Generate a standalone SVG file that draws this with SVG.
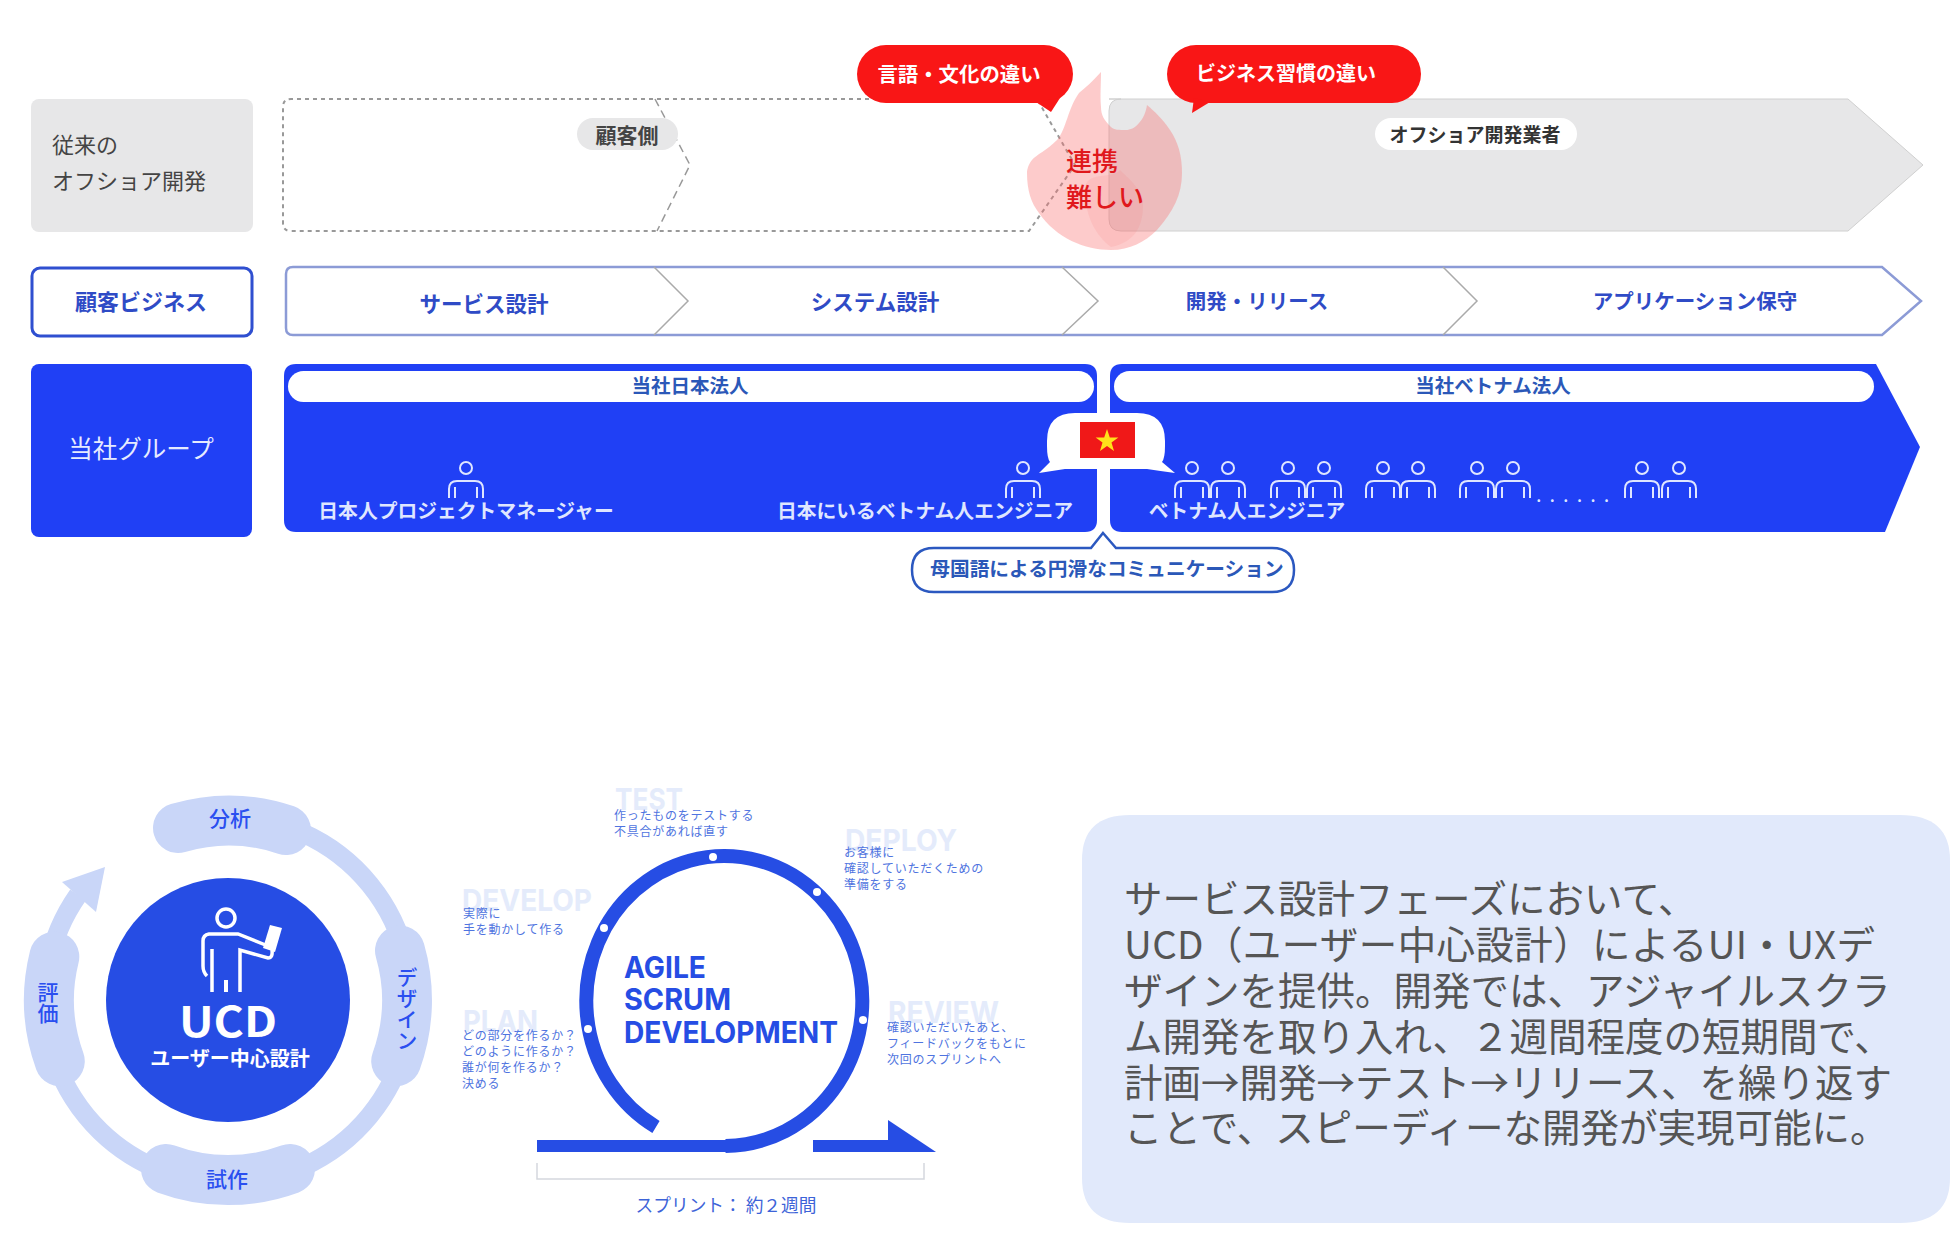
<svg xmlns="http://www.w3.org/2000/svg" xmlns:xlink="http://www.w3.org/1999/xlink" width="1950" height="1246" viewBox="0 0 1950 1246">
<style>
text{font-family:"Noto Sans CJK JP","Noto Sans",sans-serif}
.m{text-anchor:middle;dominant-baseline:central}
.b{font-weight:700}
.blue{fill:#2f4bc6}
.w{fill:#dfe6ff}
.sm{font-size:12px;letter-spacing:.75px;fill:#4f74e0}
.ghost{font-family:Inter,"Liberation Sans",sans-serif;font-weight:700;font-size:30px;fill:#e4ebfb}
.ag{font-family:Inter,"Liberation Sans",sans-serif;font-weight:700;font-size:30px;fill:#264de4}
.body{font-size:38.500px;fill:#555}
.seg{fill:none;stroke:#c9d6f8;stroke-width:50;stroke-linecap:round}
.ul{font-size:21px;font-weight:500;fill:#2a4ff0}
.dot{fill:#fff}
</style>
<defs>
<g id="p" fill="none" stroke="#dfe6ff" stroke-width="2">
<circle cx="0" cy="468" r="6"/>
<path d="M-17 498V489Q-17 481-9 481H9Q17 481 17 489V498M-11 487V498M11 487V498"/>
</g>
</defs>
<rect width="1950" height="1246" fill="#fff"/>

<g id="row1-label"><rect x="31" y="99" width="222" height="133" rx="8" fill="#e7e7e8"/>
<text x="52" y="143" font-size="22" fill="#444" dominant-baseline="central">従来の</text>
<text x="52" y="178.500" font-size="22" fill="#444" dominant-baseline="central">オフショア開発</text></g>

<g id="offshore"><path d="M1109 99H1848L1923 165L1848 231H1121Q1109 231 1109 219V111Q1109 99 1121 99Z" fill="#e7e7e8" stroke="#d0d0d0" stroke-width="1"/>
<rect x="1375" y="118" width="202" height="32" rx="16" fill="#fff"/>
<text class="m b" x="1475" y="133.500" font-size="19" fill="#333">オフショア開発業者</text></g>

<g id="customer-side"><path d="M1037 99H291Q283 99 283 107V223Q283 231 291 231H1029L1075 165Z" fill="#fff" stroke="#999" stroke-width="2" stroke-dasharray="4 4"/>
<path d="M655 99L690 165L657 231" fill="none" stroke="#999" stroke-width="1.500" stroke-dasharray="8 5"/>
<rect x="577" y="118" width="101" height="32" rx="16" fill="#e7e7e8"/>
<text class="m b" x="627" y="134" font-size="21" fill="#444">顧客側</text></g>

<g id="flame"><path d="M1101 72C1092 82 1085 88 1079 93C1068 108 1066 130 1057 140C1047 150 1036 155 1032 160C1028 165 1027 170 1027 173C1027 190 1031 203 1039 213C1056 238 1085 250 1111 250C1130 250 1145 242 1157 230C1173 212 1182 195 1182 173C1182 155 1178 142 1170 130C1162 118 1155 112 1147 105C1146 112 1143 119 1139 123C1135 128 1130 130 1126 130C1119 130 1114 130 1111 127C1104 120 1101 115 1101 107C1100 95 1101 85 1101 72Z" fill="#fa6e6e" fill-opacity=".36"/>
<path d="M1085 190C1085 215 1095 235 1111 247C1130 243 1143 232 1143 205C1143 190 1130 180 1120 170C1112 180 1085 170 1085 190Z" fill="#fa6e6e" fill-opacity=".12"/>
<text x="1066" y="159" font-size="26" fill="#e0181c" font-weight="500" dominant-baseline="central">連携</text>
<text x="1066" y="195" font-size="26" fill="#e0181c" font-weight="500" dominant-baseline="central">難しい</text></g>

<g id="bubble-language"><rect x="857" y="45" width="216" height="58" rx="29" fill="#f91616"/>
<polygon points="1036,102 1060,98 1051,112" fill="#f91616"/>
<text class="m b" x="959" y="72.500" font-size="20.400" fill="#fff">言語・文化の違い</text></g>
<g id="bubble-business"><rect x="1167" y="45" width="254" height="58" rx="29" fill="#f91616"/>
<polygon points="1192,113 1194,98 1210,102" fill="#f91616"/>
<text class="m b" x="1286" y="72.500" font-size="20" fill="#fff">ビジネス習慣の違い</text></g>

<g id="row2-label"><rect x="32" y="268" width="220" height="68" rx="8" fill="#fff" stroke="#2f4fd0" stroke-width="3"/>
<text class="m b blue" x="141" y="300" font-size="22">顧客ビジネス</text></g>

<g id="process"><path d="M293 267H1882L1921 301L1882 335H293Q286 335 286 328V274Q286 267 293 267Z" fill="#fff" stroke="#8c9bd6" stroke-width="2.500"/>
<path d="M654 267L688 301L654 335M1062 267L1098 301L1062 335M1443 267L1477 301L1443 335" fill="none" stroke="#aaa" stroke-width="1.500"/>
<text class="m b blue" x="484" y="302" font-size="21.500">サービス設計</text>
<text class="m b blue" x="875" y="300" font-size="21.500">システム設計</text>
<text class="m b blue" x="1257" y="300" font-size="20.500">開発・リリース</text>
<text class="m b blue" x="1695" y="300" font-size="20.500">アプリケーション保守</text></g>

<g id="row3-label"><rect x="31" y="364" width="221" height="173" rx="8" fill="#2040f5"/>
<text class="m" x="141" y="447" font-size="24.500" fill="#e6ebff">当社グループ</text></g>

<g id="japan"><path d="M296 364H1085Q1097 364 1097 376V520Q1097 532 1085 532H296Q284 532 284 520V376Q284 364 296 364Z" fill="#2040f5"/>
<rect x="288" y="371" width="806" height="31" rx="15.500" fill="#fff"/>
<text class="m b" x="690" y="384" font-size="19.500" fill="#2b58b8">当社日本法人</text>
<use xlink:href="#p" x="466"/><use xlink:href="#p" x="1023"/>
<text class="m b w" x="466" y="509.500" font-size="19.800">日本人プロジェクトマネージャー</text>
<text class="m b w" x="925" y="509.500" font-size="19.800">日本にいるベトナム人エンジニア</text></g>

<g id="vietnam"><path d="M1122 364H1876L1920 447L1885 532H1122Q1110 532 1110 520V376Q1110 364 1122 364Z" fill="#2040f5"/>
<rect x="1114" y="371" width="760" height="31" rx="15.500" fill="#fff"/>
<text class="m b" x="1493" y="384" font-size="19.500" fill="#2b58b8">当社ベトナム法人</text>
<use xlink:href="#p" x="1192"/><use xlink:href="#p" x="1228"/><use xlink:href="#p" x="1288"/><use xlink:href="#p" x="1324"/><use xlink:href="#p" x="1383"/><use xlink:href="#p" x="1418"/><use xlink:href="#p" x="1477"/><use xlink:href="#p" x="1513"/><use xlink:href="#p" x="1642"/><use xlink:href="#p" x="1679"/>
<text x="1536" y="502" font-size="20" letter-spacing="8" fill="#dfe6ff" font-family="Liberation Sans">......</text>
<text class="m b w" x="1247" y="509.500" font-size="19.700">ベトナム人エンジニア</text></g>

<g id="flag"><path d="M1075 413H1137Q1165 413 1165 441V446Q1165 458 1162 462L1175 473Q1160 471 1147 469H1065Q1052 471 1039 473L1050 462Q1047 458 1047 446V441Q1047 413 1075 413Z" fill="#fff"/>
<rect x="1080" y="422" width="55" height="36" fill="#f01818"/>
<polygon points="1107,429 1109.800,437.400 1118.400,437.400 1111.500,442.600 1114,451 1107,445.900 1100,451 1102.500,442.600 1095.600,437.400 1104.200,437.400" fill="#ffe21a"/></g>

<g id="bubble-communication"><path d="M1103 533L1116 548H1272Q1294 548 1294 570Q1294 592 1272 592H934Q912 592 912 570Q912 548 934 548H1091Z" fill="#fff" stroke="#2b58c0" stroke-width="2.500"/>
<text class="m b" x="1107" y="567" font-size="19.700" fill="#2b58b8">母国語による円滑なコミュニケーション</text></g>

<g id="connectors">
<path d="M228 817A183 183 0 1 1 78 895" fill="none" stroke="#c9d6f8" stroke-width="19"/>
<polygon points="105,867 62,882 96,912" fill="#c9d6f8"/>
<path d="M656 1127A138 145 0 1 1 725.500 1146" fill="none" stroke="#264de4" stroke-width="14"/>
<rect x="537" y="1140" width="189" height="12" fill="#264de4"/>
<path d="M813 1140H888V1120L936 1152H813Z" fill="#264de4"/>
<path d="M537 1163V1179H924V1163" fill="none" stroke="#d5d8de" stroke-width="1.500"/>
</g>

<g id="ucd-analysis"><path class="seg" d="M178 828A179 179 0 0 1 286 830"/>
<text class="m ul" x="230" y="817">分析</text></g>
<g id="ucd-design"><path class="seg" d="M400 950.600A179 179 0 0 1 396.200 1061.200"/>
<text class="ul" x="407" y="1009" text-anchor="middle" writing-mode="vertical-rl">デザイン</text></g>
<g id="ucd-prototype"><path class="seg" d="M290 1169A179 179 0 0 1 166 1169"/>
<text class="m ul" x="227" y="1177.500">試作</text></g>
<g id="ucd-evaluate"><path class="seg" d="M59.800 1061.200A179 179 0 0 1 54.300 956.700"/>
<text class="ul" x="48" y="1003" text-anchor="middle" writing-mode="vertical-rl">評価</text></g>

<g id="ucd-center"><circle cx="228" cy="1000" r="122" fill="#264de4"/>
<circle cx="226" cy="918" r="9" fill="none" stroke="#fff" stroke-width="3.500"/>
<path d="M212 992V949M240 992V950L268 958Q273 958 272 950M207 976Q203 972 203 966V941Q203 935 209 934H238L268 946" fill="none" stroke="#fff" stroke-width="3.500"/>
<path d="M226 980V992" stroke="#fff" stroke-width="4"/>
<polygon points="270,925 282,928 275,952 263,948" fill="#fff"/>
<text x="228" y="1037" text-anchor="middle" font-family="Inter,Liberation Sans,sans-serif" font-weight="700" font-size="42" fill="#fff" textLength="98" lengthAdjust="spacingAndGlyphs">UCD</text>
<text class="m b" x="230" y="1057.500" font-size="20" fill="#fff">ユーザー中心設計</text></g>

<g id="scrum">
<circle class="dot" cx="713" cy="857" r="4"/><circle class="dot" cx="817" cy="892" r="4"/><circle class="dot" cx="604" cy="928" r="4"/><circle class="dot" cx="588" cy="1029" r="4"/><circle class="dot" cx="863" cy="1020" r="4"/>
<text class="ag" x="624" y="978" textLength="82" lengthAdjust="spacingAndGlyphs">AGILE</text>
<text class="ag" x="624" y="1010" textLength="107" lengthAdjust="spacingAndGlyphs">SCRUM</text>
<text class="ag" x="624" y="1043" textLength="214" lengthAdjust="spacingAndGlyphs">DEVELOPMENT</text>
<text class="m" x="726" y="1203.500" font-size="17.700" fill="#3d63d8">スプリント： 約２週間</text></g>

<g id="scrum-test"><text class="ghost" x="615" y="810" textLength="68" lengthAdjust="spacingAndGlyphs">TEST</text>
<text class="sm" x="614" y="814" dominant-baseline="central">作ったものをテストする</text>
<text class="sm" x="614" y="830" dominant-baseline="central">不具合があれば直す</text></g>
<g id="scrum-deploy"><text class="ghost" x="845" y="851" textLength="112" lengthAdjust="spacingAndGlyphs">DEPLOY</text>
<text class="sm" x="844" y="851" dominant-baseline="central">お客様に</text>
<text class="sm" x="844" y="867" dominant-baseline="central">確認していただくための</text>
<text class="sm" x="844" y="883" dominant-baseline="central">準備をする</text></g>
<g id="scrum-develop"><text class="ghost" x="462" y="911" textLength="130" lengthAdjust="spacingAndGlyphs">DEVELOP</text>
<text class="sm" x="463" y="912" dominant-baseline="central">実際に</text>
<text class="sm" x="463" y="928" dominant-baseline="central">手を動かして作る</text></g>
<g id="scrum-plan"><text class="ghost" x="463" y="1032" textLength="75" lengthAdjust="spacingAndGlyphs">PLAN</text>
<text class="sm" x="462" y="1034" dominant-baseline="central">どの部分を作るか？</text>
<text class="sm" x="462" y="1050" dominant-baseline="central">どのように作るか？</text>
<text class="sm" x="462" y="1066" dominant-baseline="central">誰が何を作るか？</text>
<text class="sm" x="462" y="1082" dominant-baseline="central">決める</text></g>
<g id="scrum-review"><text class="ghost" x="888" y="1023" textLength="111" lengthAdjust="spacingAndGlyphs">REVIEW</text>
<text class="sm" x="887" y="1026" dominant-baseline="central">確認いただいたあと、</text>
<text class="sm" x="887" y="1042" dominant-baseline="central">フィードバックをもとに</text>
<text class="sm" x="887" y="1058" dominant-baseline="central">次回のスプリントへ</text></g>

<g id="summary"><path d="M1130 815H1900Q1950 815 1950 860V1178Q1950 1223 1900 1223H1130Q1082 1223 1082 1178V860Q1082 815 1130 815Z" fill="#e1e9fb"/>
<text class="body" x="1124" y="913">サービス設計フェーズにおいて、</text>
<text class="body" x="1124" y="959" textLength="751" lengthAdjust="spacing">UCD（ユーザー中心設計）によるUI・UXデ</text>
<text class="body" x="1124" y="1005">ザインを提供。開発では、アジャイルスクラ</text>
<text class="body" x="1124" y="1051">ム開発を取り入れ、２週間程度の短期間で、</text>
<text class="body" x="1124" y="1097">計画→開発→テスト→リリース、を繰り返す</text>
<text class="body" x="1124" y="1142">ことで、スピーディーな開発が実現可能に。</text></g>
</svg>
